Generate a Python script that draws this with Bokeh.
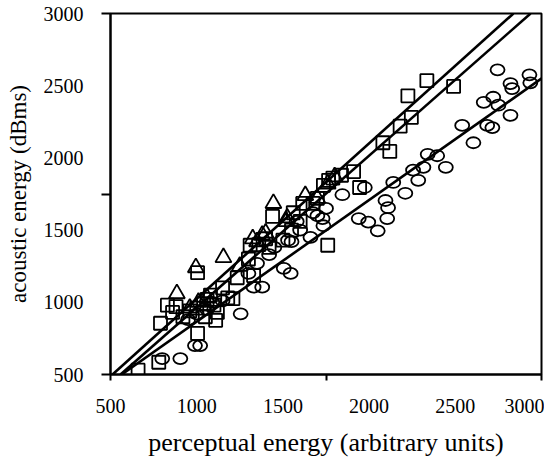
from bokeh.plotting import figure
from bokeh.models import Range1d, FixedTicker, Slope
from bokeh.embed import file_html
from bokeh.resources import INLINE

# ---- data ----
sq_x = [2225, 2335, 2490, 2245, 2180, 2080, 2120, 1910, 1765, 1735, 1945, 1760,
        1440, 1560, 1615, 1675, 1005, 1235, 1330, 830, 790, 1110, 1210, 1005, 780,
        660, 1310, 860, 880, 920, 960, 1000, 1040, 1060, 1080, 1100, 1150, 1180,
        1050, 1120, 1300, 1360, 1400, 1420, 1500, 1550, 1600, 1700, 1790, 1840]
sq_y = [2430, 2535, 2495, 2280, 2220, 2105, 2045, 1905, 1845, 1810, 1795, 1395,
        1595, 1620, 1685, 1685, 1205, 1170, 1185, 980, 855, 875, 1025, 785, 585,
        530, 1395, 930, 970, 900, 940, 960, 990, 1020, 1050, 980, 1100, 1030,
        900, 930, 1300, 1400, 1440, 1380, 1430, 1500, 1560, 1720, 1860, 1880]

tri_x = [1445, 1155, 995, 885, 1325, 1380, 1525, 1630, 1010, 1060, 1350, 1400,
         1700, 1760, 1800, 1520, 1250, 960]
tri_y = [1685, 1310, 1240, 1060, 1440, 1465, 1585, 1740, 1000, 1030, 1420, 1480,
         1720, 1820, 1870, 1560, 1250, 960]

cir_x = [2745, 2930, 2820, 2830, 2935, 2665, 2720, 2750, 2820, 2685, 2715, 2540,
         2605, 2340, 2395, 2445, 2255, 2285, 2315, 2140, 2210, 1975, 1845, 2095,
         2110, 2105, 1940, 1995, 2050, 1730, 1735, 1660, 1675, 1255, 1020, 990,
         905, 800, 1330, 1380, 1505, 1545, 1530, 950, 1000, 1060, 1090, 1150,
         1300, 1350, 1420, 1450, 1550, 1600, 1700, 1750, 1580]
cir_y = [2610, 2575, 2515, 2480, 2520, 2385, 2420, 2365, 2295, 2225, 2210, 2225,
         2105, 2025, 2015, 1935, 1915, 1845, 1935, 1830, 1755, 1795, 1745, 1705,
         1655, 1580, 1580, 1555, 1495, 1580, 1530, 1450, 1620, 920, 700, 700,
         610, 610, 1105, 1105, 1235, 1200, 1430, 880, 920, 950, 1000, 1010,
         1200, 1270, 1330, 1380, 1420, 1500, 1600, 1650, 1560]

# regression lines (gradient, intercept)
fit_gradient = [1.075, 1.051, 0.842]
fit_intercept = [-50.0, -86.5, 24.3]

x_label_ticks = [500, 1000, 1500, 2000, 2500, 3000]
y_label_ticks = [500, 1000, 1500, 2000, 2500, 3000]
mark_ticks = [500, 1750, 3000]

FONT = "Liberation Serif"

p = figure(frame_width=431, frame_height=361, output_backend="svg",
           toolbar_location=None, x_range=Range1d(500, 3000),
           y_range=Range1d(500, 3000),
           min_border_left=110, min_border_right=3, min_border_top=13,
           min_border_bottom=80)
p.grid.visible = False
p.outline_line_color = "black"
p.outline_line_width = 2
p.background_fill_color = "white"
p.border_fill_color = "white"

for g, b in zip(fit_gradient, fit_intercept):
    p.add_layout(Slope(gradient=g, y_intercept=b, line_color="black",
                       line_width=2.6))

p.scatter(sq_x, sq_y, marker="square", size=13, fill_color=None,
          line_color="black", line_width=1.8)
p.scatter(tri_x, tri_y, marker="triangle", size=16, fill_color=None,
          line_color="black", line_width=1.8)
p.ellipse(cir_x, cir_y, width=14, height=11, width_units="screen",
          height_units="screen", fill_color=None, line_color="black",
          line_width=1.8)

for ax, ticks in ((p.xaxis[0], x_label_ticks), (p.yaxis[0], y_label_ticks)):
    ax.ticker = FixedTicker(ticks=ticks, minor_ticks=mark_ticks)
    ax.major_tick_out = 0
    ax.major_tick_in = 0
    ax.minor_tick_in = 0
    ax.minor_tick_line_color = "black"
    ax.minor_tick_line_width = 2
    ax.axis_line_width = 2
    ax.axis_line_color = "black"
    ax.major_label_text_font = FONT
    ax.major_label_text_font_size = "20px"
    ax.major_label_text_color = "black"
    ax.axis_label_text_font = FONT
    ax.axis_label_text_font_style = "normal"
    ax.axis_label_text_color = "black"

p.xaxis.axis_label_text_font_size = "26px"
p.yaxis.axis_label_text_font_size = "23px"
p.xaxis.minor_tick_out = 6
p.yaxis.minor_tick_out = 9
p.xaxis.major_label_standoff = 18
p.yaxis.major_label_standoff = 18
p.xaxis.axis_label = "perceptual energy (arbitrary units)"
p.yaxis.axis_label = "acoustic energy (dBms)"
p.xaxis.axis_label_standoff = 12
p.yaxis.axis_label_standoff = 10

open("out.html", "w").write(file_html(p, INLINE))
